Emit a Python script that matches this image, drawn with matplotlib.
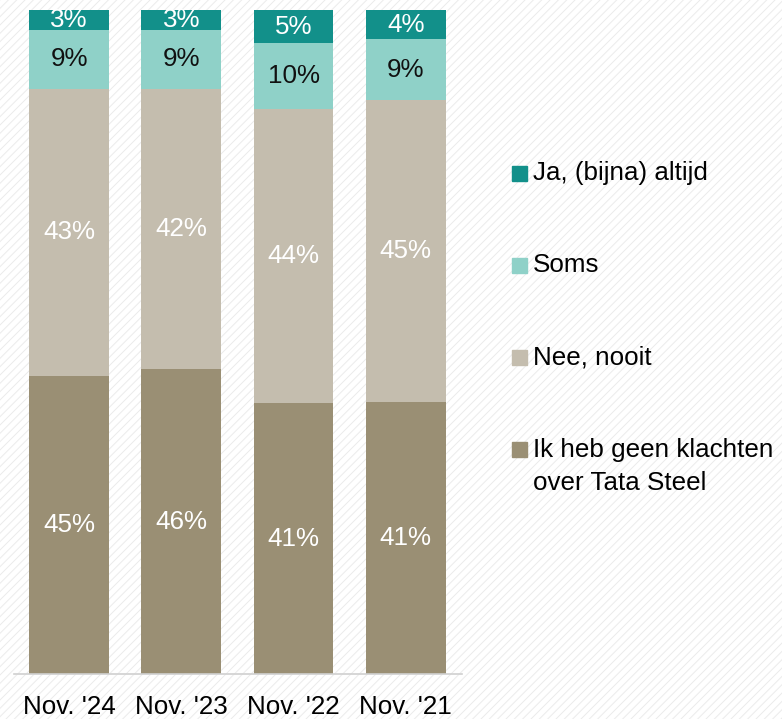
import matplotlib
matplotlib.use('Agg')
import matplotlib.pyplot as plt
from matplotlib.patches import Rectangle

plt.rcParams['font.family'] = ['Liberation Sans', 'DejaVu Sans']
plt.rcParams['hatch.linewidth'] = 0.7

# data (percentages, bottom to top)
periods = ["Nov. '24", "Nov. '23", "Nov. '22", "Nov. '21"]
geen_klachten = [44.9, 45.9, 40.8, 41.0]
nee_nooit = [43.2, 42.2, 44.3, 45.4]
soms = [8.9, 8.9, 9.9, 9.2]
ja_altijd = [3.0, 3.0, 5.0, 4.4]

series = [
    ('Ik heb geen klachten\nover Tata Steel', geen_klachten, '#9a8f74', 'white'),
    ('Nee, nooit', nee_nooit, '#c4bdae', 'white'),
    ('Soms', soms, '#8fd1c8', '#111111'),
    ('Ja, (bijna) altijd', ja_altijd, '#12908a', 'white'),
]

fig = plt.figure(figsize=(7.82, 7.19), dpi=100)
fig.patch.set_facecolor('white')
# faint diagonal background texture
fig.patches.append(Rectangle((0, 0), 1, 1, transform=fig.transFigure, facecolor='white',
                             edgecolor='#ebebeb', linewidth=0, hatch='////', zorder=-10))

ax = fig.add_axes([0.0179, 0.0626, 0.5729, 0.9235])
ax.patch.set_alpha(0)

x = range(len(periods))
bottom = [0.0] * len(periods)
for name, vals, color, tcol in series:
    ax.bar(x, vals, width=0.71, bottom=bottom, color=color, edgecolor='none')
    for i, v in enumerate(vals):
        ax.text(i, bottom[i] + v / 2, f'{round(v)}%', ha='center', va='center',
                fontsize=18.7, color=tcol)
    bottom = [b + v for b, v in zip(bottom, vals)]

ax.set_xlim(-0.49, 3.5)
ax.set_ylim(0, 100)
ax.set_xticks(list(x))
ax.set_xticklabels(periods, fontsize=18.7)
ax.tick_params(axis='x', length=0, pad=15)
ax.set_yticks([])
for s in ['top', 'right', 'left']:
    ax.spines[s].set_visible(False)
ax.spines['bottom'].set_color('#d0d0d0')
ax.spines['bottom'].set_linewidth(1.2)

# legend drawn on the figure
leg_y = [173, 265, 357, 449]
for (name, vals, color, tcol), yy in zip(series[::-1], leg_y):
    fy = 1 - yy / 719
    fig.patches.append(Rectangle((512 / 782, fy - 7.5 / 719), 15 / 782, 15 / 719,
                                 transform=fig.transFigure, color=color))
    if '\n' in name:
        fig.text(533 / 782, 1 - (449 - 11) / 719, name, fontsize=18.7, va='top',
                 ha='left', linespacing=1.45)
    else:
        fig.text(533 / 782, fy, name, fontsize=18.7, va='center', ha='left')

plt.savefig('out.png', dpi=100)
